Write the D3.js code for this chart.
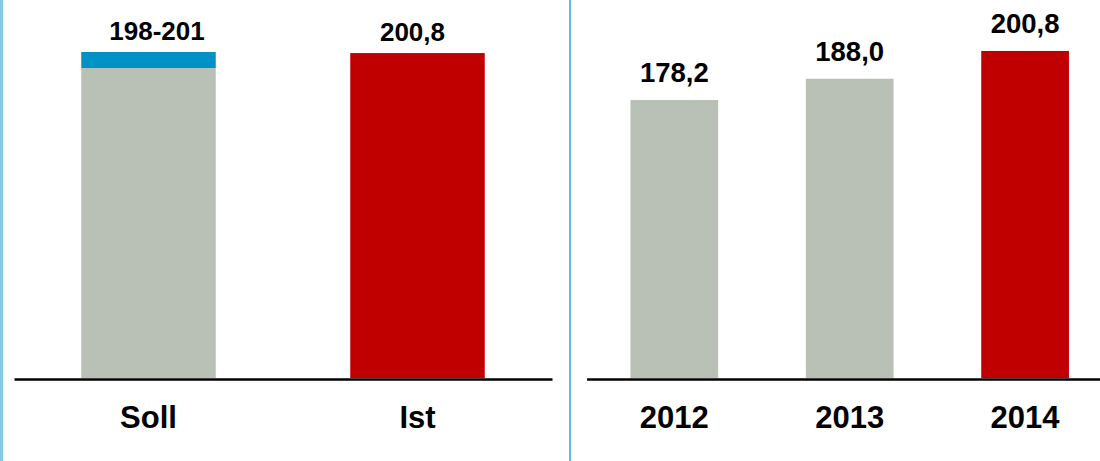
<!DOCTYPE html>
<html>
<head>
<meta charset="utf-8">
<script src="https://cdnjs.cloudflare.com/ajax/libs/d3/7.8.5/d3.min.js"></script>
<style>
  html, body { margin: 0; padding: 0; background: #fff; }
  svg { display: block; }
</style>
</head>
<body>
<script>
// left panel: target vs actual
const leftCategories = ["Soll", "Ist"];
const leftValues = [198, 200.8];        // gray / red bar
const leftRangeTop = [201, null];       // blue band on top of the target bar
// right panel: yearly values
const years = ["2012", "2013", "2014"];
const yearValues = [178.2, 188.0, 200.8];

const width = 1100;
const height = 461;
const gray = "#b9c1b6";
const red = "#c00000";
const blue = "#0092c6";
const font = "'Liberation Sans', Arial, sans-serif";

const comma = v => d3.format(".1f")(v).replace(".", ",");

const svg = d3.select("body").append("svg")
  .attr("width", width)
  .attr("height", height)
  .style("font-family", font);

// frame lines
svg.append("line")
  .attr("x1", 1.5).attr("x2", 1.5).attr("y1", 0).attr("y2", height)
  .attr("stroke", "#80cbe6").attr("stroke-width", 3);
svg.append("line")
  .attr("x1", 570).attr("x2", 570).attr("y1", 0).attr("y2", height)
  .attr("stroke", "#5cbbe6").attr("stroke-width", 2);

// ---- left panel
const xL = d3.scaleBand()
  .domain(leftCategories)
  .range([14, 552])
  .paddingInner(0.5)
  .paddingOuter(0.25);

const yL = d3.scaleLinear()
  .domain([140, 201])
  .range([378, 52]);

const left = svg.append("g");

left.selectAll("rect.base")
  .data(leftCategories)
  .enter().append("rect")
  .attr("class", "base")
  .attr("x", d => xL(d))
  .attr("width", xL.bandwidth())
  .attr("y", (d, i) => yL(leftValues[i]))
  .attr("height", (d, i) => yL(140) - yL(leftValues[i]))
  .attr("fill", (d, i) => i === leftCategories.length - 1 ? red : gray);

left.selectAll("rect.range")
  .data(leftCategories.filter((d, i) => leftRangeTop[i] != null))
  .enter().append("rect")
  .attr("class", "range")
  .attr("x", d => xL(d))
  .attr("width", xL.bandwidth())
  .attr("y", d => yL(leftRangeTop[leftCategories.indexOf(d)]))
  .attr("height", d => {
    const i = leftCategories.indexOf(d);
    return yL(leftValues[i]) - yL(leftRangeTop[i]);
  })
  .attr("fill", blue);

const leftDx = [8.5, -5];
left.selectAll("text.val")
  .data(leftCategories)
  .enter().append("text")
  .attr("class", "val")
  .attr("x", (d, i) => xL(d) + xL.bandwidth() / 2 + leftDx[i])
  .attr("y", (d, i) => yL(leftRangeTop[i] != null ? leftRangeTop[i] : leftValues[i]) - 12)
  .attr("text-anchor", "middle")
  .style("font-size", "26px")
  .style("font-weight", "bold")
  .text((d, i) => leftRangeTop[i] != null ? `${leftValues[i]}-${leftRangeTop[i]}` : comma(leftValues[i]));

const axL = left.append("g")
  .attr("transform", "translate(0,379)")
  .call(d3.axisBottom(xL).tickSize(0).tickSizeOuter(0));

// ---- right panel
const xR = d3.scaleBand()
  .domain(years)
  .range([586.6, 1112.8])
  .paddingInner(0.5)
  .paddingOuter(0.25);

const yR = d3.scaleLinear()
  .domain([50, 210])
  .range([378, 31]);

const right = svg.append("g");

right.selectAll("rect")
  .data(years)
  .enter().append("rect")
  .attr("x", d => xR(d))
  .attr("width", xR.bandwidth())
  .attr("y", (d, i) => yR(yearValues[i]))
  .attr("height", (d, i) => yR(50) - yR(yearValues[i]))
  .attr("fill", (d, i) => i === years.length - 1 ? red : gray);

right.selectAll("text.val")
  .data(years)
  .enter().append("text")
  .attr("class", "val")
  .attr("x", d => xR(d) + xR.bandwidth() / 2)
  .attr("y", (d, i) => yR(yearValues[i]) - 18)
  .attr("text-anchor", "middle")
  .style("font-size", "27.5px")
  .style("font-weight", "bold")
  .text((d, i) => comma(yearValues[i]));

const axR = right.append("g")
  .attr("transform", "translate(0,379)")
  .call(d3.axisBottom(xR).tickSize(0).tickSizeOuter(0));

// axis styling
[axL, axR].forEach(ax => {
  ax.select(".domain").attr("stroke", "#000").attr("stroke-width", 2.5);
  ax.selectAll("text")
    .attr("y", 49.3)
    .attr("dy", null)
    .attr("fill", "#000")
    .style("font-family", font)
    .style("font-size", "31px")
    .style("font-weight", "bold");
});
</script>
</body>
</html>
